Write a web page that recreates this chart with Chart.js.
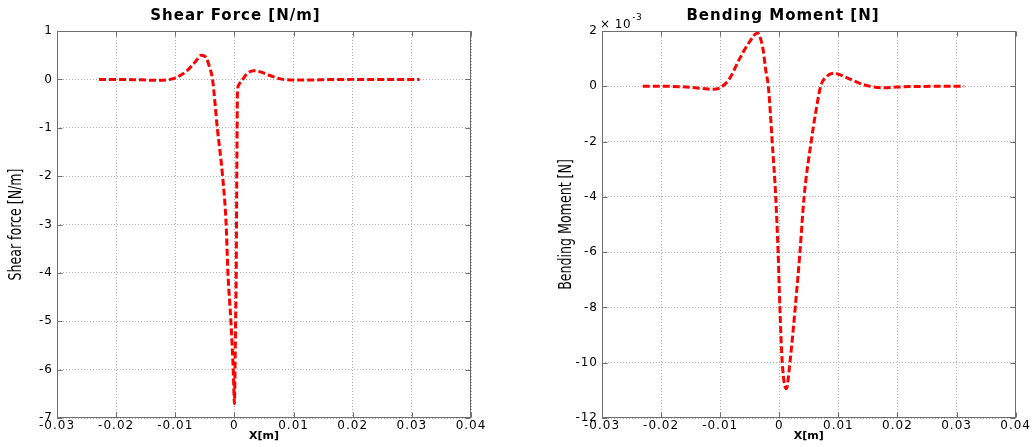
<!DOCTYPE html>
<html>
<head>
<meta charset="utf-8">
<script src="https://cdn.jsdelivr.net/npm/chart.js@4.4.1/dist/chart.umd.min.js"></script>
<style>
    html, body { margin: 0; padding: 0; background: #fff; }
    #wrap { position: relative; width: 1032px; height: 447px; }
    canvas { position: absolute; top: 0; }
    #shearChart { left: 0; }
    #momentChart { left: 516px; }
</style>
</head>
<body>
<div id="wrap">
    <canvas id="shearChart" width="516" height="447"></canvas>
    <canvas id="momentChart" width="516" height="447"></canvas>
</div>
<script>
// Shear force along the beam, x in metres
const shearX = [-0.0229, -0.0200, -0.0160, -0.0130, -0.0110, -0.0100, -0.0080, -0.0065, -0.0056, -0.0048,
    -0.0042, -0.0037, -0.0029, -0.0020, -0.0014, -0.0011, -0.0006, -0.0002, 0.0000, 0.0001,
    0.0002, 0.0003, 0.00035, 0.0004, 0.00045, 0.0005, 0.0007, 0.0014, 0.0020, 0.0025,
    0.0032, 0.0045, 0.0060, 0.0082, 0.0120, 0.0160, 0.0200, 0.0313];
const shearForce = [0, 0, -0.01, -0.02, -0.005, 0.03, 0.18, 0.38, 0.50, 0.45,
    0.25, 0, -1, -2, -3, -4, -5, -6, -6.7, -6,
    -5, -4, -3, -2, -1, -0.3, -0.12, 0, 0.10, 0.15,
    0.18, 0.15, 0.08, 0, -0.015, -0.005, 0, 0];

// Bending moment, values in units of 1e-3 N
const momentX = [-0.0231, -0.0200, -0.0163, -0.0130, -0.0112, -0.0100, -0.0085, -0.0067, -0.0050, -0.0037,
    -0.0030, -0.0027, -0.0023, -0.00185, -0.0015, -0.0012, -0.0006, -0.0002, 0.0001, 0.0005,
    0.0012, 0.0018, 0.0027, 0.0035, 0.0042, 0.0054, 0.0062, 0.0070, 0.0080, 0.0093,
    0.0110, 0.0141, 0.0175, 0.0220, 0.0313];
const bendingMoment = [0, 0, -0.02, -0.08, -0.11, -0.05, 0.25, 1.0, 1.62, 1.93,
    1.6, 1.28, 0.6, 0, -1, -2, -4, -6, -8, -10,
    -10.94, -10, -8, -6, -4, -2, -0.9, 0, 0.35, 0.47,
    0.35, 0.07, -0.05, -0.01, 0];

const xTicks = [-0.03, -0.02, -0.01, 0, 0.01, 0.02, 0.03, 0.04];
const xTickLabels = ['-0.03', '-0.02', '-0.01', '0', '0.01', '0.02', '0.03', '0.04'];
const shearTicks = [-7, -6, -5, -4, -3, -2, -1, 0, 1];
const shearTickLabels = ['-7', '-6', '-5', '-4', '-3', '-2', '-1', '0', '1'];
const momentTicks = [-12, -10, -8, -6, -4, -2, 0, 2];
const momentTickLabels = ['-12', '-10', '-8', '-6', '-4', '-2', '0', '2'];

const TICK_FONT = { family: 'DejaVu Sans', size: 12 };
const LABEL_FONT = { family: "'DejaVu Sans Condensed', sans-serif", size: 14 };
const SPACING = '1px';   // wide, Helvetica-like tick and title text
const LABEL_STRETCH = 1.3;   // y label glyphs are drawn taller than wide

// Axis titles are drawn without the extra letter spacing; the y title is stretched across its baseline
function plainTitle(scale) {
    if (scale._plainTitle) return;
    const drawTitle = scale.drawTitle;
    scale.drawTitle = function () {
        const ctx = this.ctx;
        const t = this.options.title;
        ctx.save();
        ctx.letterSpacing = '0px';
        if (this.axis === 'y') {
            const cx = this.left + t.font.size * 1.2 / 2 + t.padding.top;
            ctx.translate(cx, 0);
            ctx.scale(LABEL_STRETCH, 1);
            ctx.translate(-cx, 0);
        }
        drawTitle.call(this);
        ctx.restore();
    };
    scale._plainTitle = true;
}

// Box around the axes with short inward tick marks, plus the optional exponent label
const axesBox = {
    id: 'axesBox',
    beforeLayout(chart) {
        chart.ctx.letterSpacing = SPACING;
    },
    beforeDraw(chart) {
        chart.ctx.letterSpacing = SPACING;
    },
    afterDraw(chart, args, opts) {
        const { ctx, chartArea: a, scales: { x, y } } = chart;
        const left = Math.round(a.left) + 0.5;
        const right = Math.round(a.right) - 0.5;
        const top = Math.round(a.top) + 0.5;
        const bottom = Math.round(a.bottom) - 0.5;
        const len = 5;

        ctx.save();
        ctx.setLineDash([]);
        ctx.strokeStyle = '#6e6e6e';
        ctx.lineWidth = 1;
        ctx.strokeRect(left, top, right - left, bottom - top);

        ctx.beginPath();
        x.ticks.forEach(t => {
            const px = Math.round(x.getPixelForValue(t.value)) + 0.5;
            ctx.moveTo(px, bottom); ctx.lineTo(px, bottom - len);
            ctx.moveTo(px, top); ctx.lineTo(px, top + len);
        });
        y.ticks.forEach(t => {
            const py = Math.round(y.getPixelForValue(t.value)) + 0.5;
            ctx.moveTo(left, py); ctx.lineTo(left + len, py);
            ctx.moveTo(right, py); ctx.lineTo(right - len, py);
        });
        ctx.stroke();

        if (opts.exponent) {
            ctx.letterSpacing = '0.5px';
            ctx.fillStyle = '#000';
            ctx.textBaseline = 'alphabetic';
            ctx.textAlign = 'left';
            ctx.font = '12px DejaVu Sans';
            const base = '\u00d7 10';
            ctx.fillText(base, a.left - 2, a.top - 3);
            const w = ctx.measureText(base).width;
            ctx.font = '9px DejaVu Sans';
            ctx.fillText(opts.exponent, a.left + w - 1, a.top - 11);
        }
        ctx.restore();
    }
};

function makePlot(canvasId, cfg) {
    const ctx = document.getElementById(canvasId).getContext('2d');
    const points = cfg.xs.map((v, i) => ({ x: v, y: cfg.ys[i] }));

    return new Chart(ctx, {
        type: 'scatter',
        data: {
            datasets: [{
                data: points,
                showLine: true,
                borderColor: '#ff0000',
                borderWidth: 3,
                borderDash: [7, 3],
                cubicInterpolationMode: 'monotone',
                pointRadius: 0,
                pointHoverRadius: 0
            }]
        },
        plugins: [axesBox],
        options: {
            responsive: false,
            animation: false,
            devicePixelRatio: 1,
            layout: { padding: cfg.padding },
            plugins: {
                legend: { display: false },
                tooltip: { enabled: false },
                title: {
                    display: true,
                    text: cfg.title,
                    color: '#000',
                    font: { family: 'DejaVu Sans', size: 15, weight: 'bold' },
                    padding: { top: 7, bottom: 6 }
                },
                axesBox: { exponent: cfg.exponent }
            },
            scales: {
                x: {
                    type: 'linear',
                    min: -0.03,
                    max: 0.04,
                    afterBuildTicks: (scale) => { scale.ticks = xTicks.map(v => ({ value: v })); },
                    afterFit: (scale) => { scale.height = 29; },
                    afterUpdate: plainTitle,
                    ticks: {
                        color: '#000',
                        font: TICK_FONT,
                        padding: 1,
                        maxRotation: 0,
                        autoSkip: false,
                        callback: (value, index) => xTickLabels[index]
                    },
                    grid: { color: '#b0b0b0', lineWidth: 1, drawTicks: false },
                    border: { display: false, dash: [1, 2] },
                    title: {
                        display: true,
                        text: 'X[m]',
                        color: '#000',
                        font: { family: 'DejaVu Sans', size: 11, weight: 'bold' },
                        padding: { top: 0, bottom: 4 }
                    }
                },
                y: {
                    type: 'linear',
                    min: cfg.yTicks[0],
                    max: cfg.yTicks[cfg.yTicks.length - 1],
                    afterBuildTicks: (scale) => { scale.ticks = cfg.yTicks.map(v => ({ value: v })); },
                    afterFit: (scale) => { scale.width = cfg.yWidth; },
                    afterUpdate: plainTitle,
                    ticks: {
                        color: '#000',
                        font: TICK_FONT,
                        padding: 4,
                        autoSkip: false,
                        callback: (value, index) => cfg.yTickLabels[index]
                    },
                    grid: { color: '#b0b0b0', lineWidth: 1, drawTicks: false },
                    border: { display: false, dash: [1, 2] },
                    title: {
                        display: true,
                        text: cfg.yTitle,
                        color: '#000',
                        font: LABEL_FONT,
                        padding: { top: 8, bottom: 0 }
                    }
                }
            }
        }
    });
}

makePlot('shearChart', {
    xs: shearX,
    ys: shearForce,
    title: 'Shear Force [N/m]',
    yTitle: 'Shear force [N/m]',
    yTicks: shearTicks,
    yTickLabels: shearTickLabels,
    yWidth: 57,
    padding: { left: 0, right: 45, top: 0, bottom: 0 }
});

makePlot('momentChart', {
    xs: momentX,
    ys: bendingMoment,
    title: 'Bending Moment [N]',
    yTitle: 'Bending Moment [N]',
    yTicks: momentTicks,
    yTickLabels: momentTickLabels,
    yWidth: 52,
    exponent: '-3',
    padding: { left: 34, right: 16, top: 0, bottom: 0 }
});
</script>
</body>
</html>
